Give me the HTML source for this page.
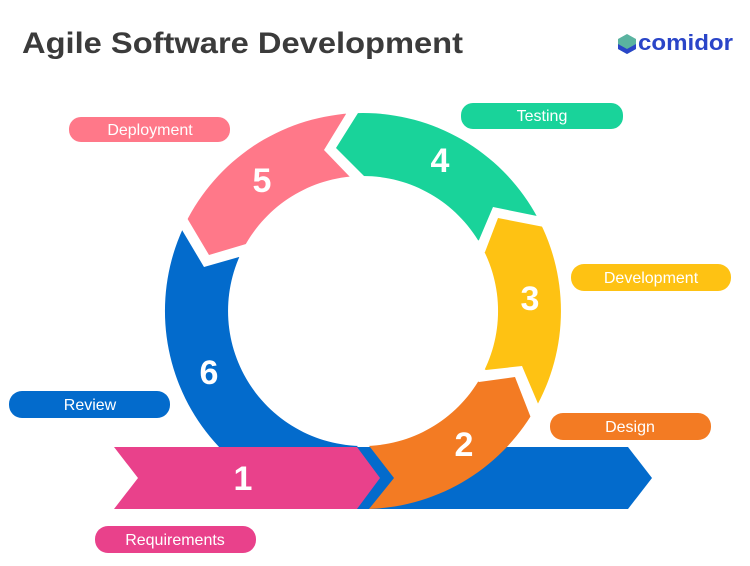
<!DOCTYPE html>
<html><head><meta charset="utf-8"><style>
html,body{margin:0;padding:0;background:#fff;width:750px;height:566px;overflow:hidden;font-family:"Liberation Sans",sans-serif}
svg{display:block}
</style></head><body>
<svg width="750" height="566" viewBox="0 0 750 566" xmlns="http://www.w3.org/2000/svg">
<defs>
<clipPath id="ring"><path clip-rule="evenodd" d="M363,113 A198,198 0 1 1 362.9,113 Z M363,176 A135,135 0 1 0 363.1,176 Z"/></clipPath>
</defs>
<text x="22" y="53" font-size="30" font-weight="bold" fill="#3b3b3b" textLength="441" lengthAdjust="spacingAndGlyphs">Agile Software Development</text>
<polygon points="627,34 636,39 636,49 627,54 618,49 618,39" fill="#5ab3a0"/>
<polygon points="618,44 627,49 636,44 636,49 627,54 618,49" fill="#2a45c8"/>
<text x="638" y="50" font-size="22" font-weight="bold" fill="#2a45c8" textLength="95" lengthAdjust="spacingAndGlyphs">comidor</text>

<g clip-path="url(#ring)">
<polygon fill="#036BCC" points="363,311 239,257 204,267 182,230 100,200 100,600 357,600 357,447 363,440"/>
<polygon fill="#FF7889" points="363,311 246,244 209,255 187,218 100,180 100,40 350,40 346,114 324,150 350,177"/>
<polygon fill="#19D39A" points="363,311 364,176 336,148 358,113 360,40 650,40 650,200 537,216 493,207 479,240"/>
<polygon fill="#FEC213" points="363,311 485,252 498,218 544,227 650,210 650,400 539,406 522,366 486,370"/>
</g>
<polygon fill="#036BCC" points="340,447 628,447 652,478 628,509 340,509"/>
<polygon fill="#E9418B" points="114,447 357,447 380,478 357,509 114,509 138,478"/>
<g clip-path="url(#ring)">
<polygon fill="#F37B23" points="363,311 479,382 515,377 531,418 650,430 650,600 369,600 369,509 394,478 370,447 363,440"/>
</g>

<g fill="#fff" font-size="34" font-weight="bold" text-anchor="middle">
<text x="262" y="192">5</text>
<text x="440" y="172">4</text>
<text x="530" y="310">3</text>
<text x="464" y="456">2</text>
<text x="209" y="384">6</text>
<text x="243" y="490">1</text>
</g>

<g font-size="16" fill="#fff" text-anchor="middle">
<rect x="69" y="117" width="161" height="25" rx="12" fill="#FF7889"/><text x="150" y="135">Deployment</text>
<rect x="461" y="103" width="162" height="26" rx="12" fill="#19D39A"/><text x="542" y="121">Testing</text>
<rect x="571" y="264" width="160" height="27" rx="13" fill="#FEC213"/><text x="651" y="283">Development</text>
<rect x="550" y="413" width="161" height="27" rx="13" fill="#F37B23"/><text x="630" y="432">Design</text>
<rect x="9" y="391" width="161" height="27" rx="13" fill="#036BCC"/><text x="90" y="410">Review</text>
<rect x="95" y="526" width="161" height="27" rx="13" fill="#E9418B"/><text x="175" y="545">Requirements</text>
</g>
</svg>
</body></html>
